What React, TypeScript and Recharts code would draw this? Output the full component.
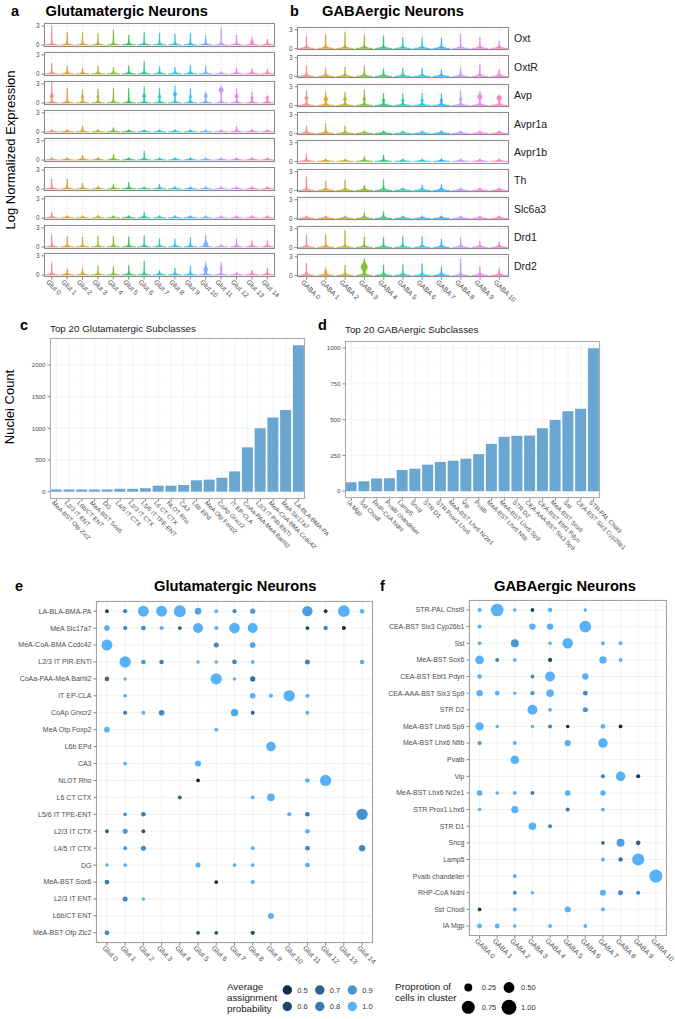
import React from 'react';
import {
  BarChart, Bar, ScatterChart, Scatter, XAxis, YAxis, ZAxis,
  CartesianGrid, Cell,
} from 'recharts';

const FONT = '"Liberation Sans", Arial, Helvetica, sans-serif';
const TICK_GREY = '#4D4D4D';
const GRID = '#EBEBEB';
const MINOR = '#F4F4F4';
const BAR_FILL = '#69A6D1';

// ---------- a / b : expression violins ----------
const genes = ['Oxt', 'OxtR', 'Avp', 'Avpr1a', 'Avpr1b', 'Th', 'Slc6a3', 'Drd1', 'Drd2'];

const glutClusters = ['Glut 0', 'Glut 1', 'Glut 2', 'Glut 3', 'Glut 4', 'Glut 5', 'Glut 6', 'Glut 7',
  'Glut 8', 'Glut 9', 'Glut 10', 'Glut 11', 'Glut 12', 'Glut 13', 'Glut 14'];
const gabaClusters = ['GABA 0', 'GABA 1', 'GABA 2', 'GABA 3', 'GABA 4', 'GABA 5', 'GABA 6', 'GABA 7',
  'GABA 8', 'GABA 9', 'GABA 10'];

const glutColors = ['#F8766D', '#E58700', '#C99800', '#A3A500', '#6BB100', '#00BA38', '#00BF7D', '#00C0AF',
  '#00BCD8', '#00B0F6', '#619CFF', '#B983FF', '#E76BF3', '#FD61D1', '#FF67A4'];
const gabaColors = ['#F8766D', '#DB8E00', '#AEA200', '#64B200', '#00BD5C', '#00C1A7', '#00BADE', '#00A6FF',
  '#B385FF', '#EF67EB', '#FF63B6'];

// max log-normalised expression per gene (rows) and cluster (columns)
const glutViolinMax = [
  [3.0, 2.0, 2.0, 1.85, 2.4, 1.55, 2.0, 1.9, 1.75, 1.9, 1.5, 2.7, 1.55, 1.2, 0.95],
  [1.7, 1.25, 0.9, 1.25, 1.05, 1.25, 2.05, 1.2, 1.05, 1.4, 1.25, 0.05, 0.95, 0.85, 0.75],
  [3.3, 2.4, 2.1, 2.2, 2.4, 2.3, 2.6, 2.4, 2.7, 2.3, 1.75, 2.7, 2.3, 1.75, 1.2],
  [0.05, 0.05, 1.0, 0.05, 0.7, 0.05, 0.05, 0.05, 0.05, 0.05, 0.05, 0.05, 0.9, 0.05, 0.05],
  [0.05, 0.05, 0.75, 0.05, 0.95, 0.05, 1.4, 0.05, 0.05, 0.05, 0.05, 0.05, 0.05, 0.05, 0.05],
  [1.6, 1.6, 0.95, 0.05, 0.75, 1.05, 0.05, 0.75, 0.05, 0.05, 0.05, 0.05, 0.05, 0.05, 0.05],
  [0.95, 0.05, 0.05, 0.05, 0.05, 0.05, 0.95, 0.05, 0.05, 0.05, 0.05, 0.05, 0.05, 0.05, 0.05],
  [1.9, 1.75, 1.6, 1.75, 1.7, 1.6, 1.8, 1.3, 1.3, 1.5, 1.85, 0.05, 1.3, 1.0, 1.0],
  [2.0, 1.0, 1.15, 1.4, 1.3, 1.5, 2.2, 0.7, 1.1, 1.4, 2.05, 1.95, 0.05, 0.8, 1.1],
];
const gabaViolinMax = [
  [2.0, 2.25, 2.6, 2.15, 2.05, 1.8, 1.75, 1.7, 2.35, 1.8, 1.2],
  [1.75, 1.35, 1.5, 1.6, 1.25, 1.35, 1.35, 1.15, 1.45, 1.9, 1.15],
  [2.4, 2.2, 2.15, 2.5, 1.95, 1.95, 2.0, 1.95, 2.4, 2.3, 1.65],
  [1.2, 1.6, 1.2, 0.05, 0.05, 0.05, 0.05, 0.05, 0.05, 0.05, 0.05],
  [1.25, 0.05, 0.05, 0.8, 1.05, 0.05, 0.05, 0.05, 0.05, 0.05, 0.05],
  [2.2, 1.5, 1.7, 0.85, 1.75, 0.05, 0.9, 0.95, 0.05, 0.05, 0.05],
  [0.05, 0.05, 0.05, 1.0, 1.1, 0.05, 0.05, 0.05, 0.05, 0.05, 0.05],
  [2.0, 2.1, 2.7, 1.7, 1.65, 1.8, 1.75, 1.35, 1.55, 1.05, 0.9],
  [2.0, 1.25, 1.65, 2.7, 1.7, 1.75, 1.9, 1.4, 2.7, 1.4, 1.2],
];

// density bumps: [gene, cluster, centre, spread, relative width]
type Bulge = [string, number, number, number, number];
const glutBulges: Bulge[] = [
  ['Oxt', 13, 0.55, 0.12, 0.15],
  ['Avp', 0, 1.1, 0.2, 0.2], ['Avp', 2, 1.0, 0.15, 0.12], ['Avp', 3, 1.0, 0.15, 0.1],
  ['Avp', 6, 1.1, 0.18, 0.18], ['Avp', 7, 1.0, 0.15, 0.15], ['Avp', 8, 1.4, 0.2, 0.2],
  ['Avp', 9, 1.0, 0.15, 0.12], ['Avp', 10, 1.1, 0.18, 0.18], ['Avp', 11, 2.05, 0.25, 0.3],
  ['Avp', 12, 1.1, 0.18, 0.2], ['Avp', 13, 0.8, 0.15, 0.12], ['Avp', 14, 0.8, 0.15, 0.15],
  ['Drd1', 10, 0.5, 0.25, 0.2],
  ['Drd2', 10, 0.9, 0.3, 0.22], ['Drd2', 11, 1.0, 0.25, 0.1],
];
const gabaBulges: Bulge[] = [
  ['Avp', 0, 1.2, 0.18, 0.15], ['Avp', 1, 1.0, 0.2, 0.18], ['Avp', 2, 1.0, 0.18, 0.15],
  ['Avp', 3, 1.0, 0.15, 0.12], ['Avp', 4, 0.8, 0.15, 0.12], ['Avp', 5, 0.8, 0.15, 0.12],
  ['Avp', 6, 0.8, 0.15, 0.12], ['Avp', 7, 0.8, 0.15, 0.12], ['Avp', 8, 1.0, 0.15, 0.12],
  ['Avp', 9, 1.4, 0.25, 0.22], ['Avp', 10, 1.2, 0.25, 0.25],
  ['Drd2', 1, 0.6, 0.15, 0.08], ['Drd2', 3, 1.35, 0.45, 0.33],
];

// ---------- c / d : nuclei counts per subclass (ascending) ----------
const glutSubclasses = ['MeA-BST Otp Zic2', 'L2/3 IT ENT', 'L6b/CT ENT', 'MeA-BST Sox6', 'DG',
  'L4/5 IT CTX', 'L2/3 IT CTX', 'L5/6 IT TPE-ENT', 'L6 CT CTX', 'NLOT Rho', 'CA3', 'L6b EPd',
  'MeA Otp Foxp2', 'CoAp Grxcr2', 'IT EP-CLA', 'CoAa-PAA-MeA Barhl2', 'L2/3 IT PIR-ENTl',
  'MeA-CoA-BMA Ccdc42', 'MeA Slc17a7', 'LA-BLA-BMA-PA'];
const glutCounts = [35, 35, 35, 35, 35, 45, 45, 55, 95, 95, 105, 180, 190, 220, 320, 700, 1000, 1170, 1290, 2310];

const gabaSubclasses = ['IA Mgp', 'Sst Chodl', 'RHP-CoA Ndnl', 'Pvalb chandelier', 'Lamp5', 'Sncg',
  'STR D1', 'STR Prox1 Lhx6', 'MeA-BST Lhx6 Nr2e1', 'Vip', 'Pvalb', 'MeA-BST Lhx6 Nfib',
  'MeA-BST Lhx6 Sp9', 'STR D2', 'CEA-AAA-BST Six3 Sp9', 'CEA-BST Ebf1 Pdyn', 'MeA-BST Sox6', 'Sst',
  'CEA-BST Six3 Cyp26b1', 'STR-PAL Chst9'];
const gabaCounts = [62, 69, 88, 90, 148, 157, 185, 204, 213, 227, 259, 331, 380, 387, 389, 440, 498, 558, 576, 1000];

// ---------- e / f : cluster vs subclass dots ----------
// row labels, top to bottom
const glutDotLabels = ['LA-BLA-BMA-PA', 'MeA Slc17a7', 'MeA-CoA-BMA Ccdc42', 'L2/3 IT PIR-ENTl',
  'CoAa-PAA-MeA Barhl2', 'IT EP-CLA', 'CoAp Grxcr2', 'MeA Otp Foxp2', 'L6b EPd', 'CA3', 'NLOT Rho',
  'L6 CT CTX', 'L5/6 IT TPE-ENT', 'L2/3 IT CTX', 'L4/5 IT CTX', 'DG', 'MeA-BST Sox6', 'L2/3 IT ENT',
  'L6b/CT ENT', 'MeA-BST Otp Zic2'];
const gabaDotLabels = [...gabaSubclasses].reverse();

// each entry: [cluster, proportion of cells, average assignment probability]
const glutDotRows: [number, number, number][][] = [
  [[0, 0.02, 0.6], [1, 0.04, 0.85], [2, 0.52, 1], [3, 0.52, 1], [4, 0.63, 1], [5, 0.16, 0.95], [6, 0.02, 1],
    [7, 0.03, 0.85], [8, 0.08, 0.92], [11, 0.45, 0.93], [12, 0.02, 0.55], [13, 0.6, 1], [14, 0.05, 1]],
  [[0, 0.1, 1], [1, 0.04, 0.85], [2, 0.06, 0.88], [3, 0.03, 1], [4, 0.02, 0.7], [5, 0.42, 1], [6, 0.03, 1],
    [7, 0.48, 1], [8, 0.42, 1], [11, 0.02, 0.6], [12, 0.04, 0.82], [13, 0.03, 0.5]],
  [[0, 0.52, 1], [6, 0.07, 0.85], [8, 0.1, 0.95]],
  [[1, 0.55, 1], [2, 0.05, 0.9], [3, 0.05, 0.82], [5, 0.01, 1], [6, 0.01, 1], [7, 0.06, 0.85], [8, 0.02, 1],
    [11, 0.07, 0.82], [14, 0.05, 1]],
  [[0, 0.05, 0.75], [1, 0.01, 1], [6, 0.55, 1], [7, 0.01, 1], [8, 0.08, 0.75]],
  [[1, 0.01, 0.95], [8, 0.1, 1], [9, 0.03, 1], [10, 0.55, 1], [11, 0.03, 1]],
  [[1, 0.03, 0.8], [2, 0.02, 1], [3, 0.1, 0.85], [7, 0.2, 0.95], [8, 0.02, 0.7], [11, 0.02, 1]],
  [[0, 0.1, 1], [6, 0.02, 1]],
  [[9, 0.38, 1]],
  [[1, 0.02, 1], [5, 0.12, 1]],
  [[5, 0.02, 0.5], [11, 0.05, 1], [12, 0.55, 1]],
  [[4, 0.02, 0.7], [8, 0.02, 1], [9, 0.22, 1]],
  [[1, 0.02, 0.9], [2, 0.05, 0.8], [10, 0.03, 1], [11, 0.05, 0.8], [14, 0.55, 0.88]],
  [[0, 0.02, 0.7], [1, 0.07, 0.9], [2, 0.02, 0.65], [11, 0.05, 1]],
  [[1, 0.02, 0.9], [2, 0.07, 0.85], [8, 0.02, 1], [11, 0.06, 0.85], [14, 0.14, 0.85]],
  [[0, 0.01, 1], [1, 0.02, 1], [5, 0.07, 1], [7, 0.02, 1], [8, 0.02, 1], [11, 0.06, 1]],
  [[0, 0.06, 0.8], [6, 0.02, 0.5], [8, 0.04, 1]],
  [[1, 0.07, 0.85], [2, 0.01, 1]],
  [[9, 0.12, 1]],
  [[0, 0.06, 0.85], [5, 0.02, 0.65], [6, 0.02, 0.65], [8, 0.04, 0.65]],
];
const gabaDotRows: [number, number, number][][] = [
  [[0, 0.03, 1], [1, 0.7, 1], [2, 0.01, 1], [3, 0.02, 0.6], [4, 0.04, 1], [6, 0.01, 1]],
  [[0, 0.03, 1], [3, 0.14, 1], [4, 0.14, 1], [6, 0.6, 1]],
  [[0, 0.02, 1], [2, 0.25, 0.9], [4, 0.01, 1], [5, 0.48, 1], [7, 0.02, 1], [8, 0.02, 1]],
  [[0, 0.3, 1], [1, 0.02, 0.8], [2, 0.02, 1], [4, 0.03, 0.6], [7, 0.2, 1], [8, 0.02, 1]],
  [[0, 0.05, 1], [3, 0.02, 0.85], [4, 0.42, 1], [6, 0.14, 1]],
  [[0, 0.14, 1], [1, 0.05, 1], [2, 0.01, 1], [3, 0.04, 0.9], [4, 0.22, 1], [6, 0.06, 0.85]],
  [[3, 0.42, 1], [4, 0.02, 1], [6, 0.07, 0.9]],
  [[0, 0.28, 1], [1, 0.01, 1], [3, 0.01, 1], [4, 0.03, 0.85], [5, 0.01, 0.5], [7, 0.06, 1], [8, 0.02, 0.5]],
  [[0, 0.04, 0.95], [2, 0.03, 1], [5, 0.14, 1], [7, 0.38, 1]],
  [[2, 0.3, 1]],
  [[7, 0.03, 0.85], [8, 0.38, 1], [9, 0.03, 0.55]],
  [[0, 0.1, 1], [1, 0.01, 1], [2, 0.02, 1], [3, 0.02, 0.8], [5, 0.1, 1], [7, 0.08, 1]],
  [[0, 0.01, 1], [2, 0.2, 1], [5, 0.03, 0.8], [7, 0.02, 1]],
  [[3, 0.22, 1], [4, 0.03, 0.85]],
  [[7, 0.02, 0.75], [8, 0.25, 0.93], [9, 0.05, 0.7]],
  [[7, 0.03, 1], [8, 0.04, 0.75], [9, 0.65, 1]],
  [[2, 0.02, 0.95], [10, 0.75, 1]],
  [[2, 0.02, 0.85], [3, 0.01, 1], [7, 0.12, 1], [8, 0.07, 0.85], [9, 0.03, 0.85]],
  [[0, 0.02, 0.6], [2, 0.03, 1], [5, 0.12, 1], [7, 0.02, 1]],
  [[0, 0.06, 1], [1, 0.06, 1], [2, 0.01, 1], [4, 0.02, 1], [6, 0.02, 1]],
];

const probLegend = [0.5, 0.6, 0.7, 0.8, 0.9, 1.0];
const propLegend = [0.25, 0.5, 0.75, 1.0];

// ---------- helpers ----------
const SIZE_RANGE: [number, number] = [8, 175];
const dotRadius = (p: number) => Math.sqrt((SIZE_RANGE[0] + (SIZE_RANGE[1] - SIZE_RANGE[0]) * p) / Math.PI);

const probColor = (p: number) => {
  const t = Math.max(0, Math.min(1, (p - 0.5) / 0.5));
  const lo = [19, 43, 67];
  const hi = [86, 177, 247];
  const c = lo.map((v, i) => Math.round(v + (hi[i] - v) * t));
  return `rgb(${c[0]},${c[1]},${c[2]})`;
};

type Rect = { x: number; y: number; w: number; h: number };

const Frame = ({ r, color }: { r: Rect; color: string }) => (
  <div style={{
    position: 'absolute', left: r.x, top: r.y, width: r.w, height: r.h,
    border: `1px solid ${color}`, boxSizing: 'border-box', pointerEvents: 'none',
  }} />
);

const SlantTick = (props: any) => {
  const { x, y, payload, size, labels, ox = -5, oy = 1 } = props;
  const label = labels ? labels[payload.value] : payload.value;
  const ax = x + ox;
  const ay = y + oy;
  return (
    <text x={ax} y={ay} transform={`rotate(45 ${ax} ${ay})`} fontSize={size} fill={TICK_GREY} textAnchor="start">
      {label}
    </text>
  );
};

// single-line y label (no wrapping)
const RowTick = (props: any) => {
  const { x, y, payload, labels, size } = props;
  return (
    <text x={x} y={y} dy="0.35em" textAnchor="end" fontSize={size} fill={TICK_GREY}>
      {labels[payload.value]}
    </text>
  );
};

const ViolinShape = (props: any) => {
  const { x, y, width, height, payload, colors, bulges } = props;
  const color = colors[payload.idx];
  const cx = x + width / 2;
  const yBase = y + height;
  const H = Math.max(height, 0);
  const halfW = width / 2;
  const unit = payload.value > 0 ? H / payload.value : 0;
  const own = (bulges as Bulge[]).filter((b) => b[1] === payload.idx);
  const top = Math.max(H, 2.6);
  const n = 80;
  const left: string[] = [];
  const right: string[] = [];
  for (let i = 0; i <= n; i++) {
    const t = (top * i) / n;
    let w = halfW * Math.exp(-t / 0.75);
    if (H > 0 && t <= H) w += 0.6 * (1 - 0.6 * (t / H));
    for (const [, , c, s, k] of own) {
      const d = (t - c * unit) / (s * unit);
      w += k * halfW * Math.exp(-0.5 * d * d);
    }
    w = Math.min(w, halfW);
    left.push(`${(cx - w).toFixed(2)},${(yBase - t).toFixed(2)}`);
    right.unshift(`${(cx + w).toFixed(2)},${(yBase - t).toFixed(2)}`);
  }
  return (
    <path d={`M${left.join('L')}L${right.join('L')}Z`} fill={color} fillOpacity={0.8}
      stroke={color} strokeWidth={0.35} />
  );
};

const VIOLIN_DOMAIN: [number, number] = [-0.3, 3.45];

const ViolinRow = ({ gene, values, clusters, colors, bulges, r, yw, showX }: {
  gene: string; values: number[]; clusters: string[]; colors: string[]; bulges: Bulge[];
  r: Rect; yw: number; showX: boolean;
}) => {
  const data = clusters.map((c, i) => ({ cluster: c, value: values[i], idx: i }));
  const own = bulges.filter((b) => b[0] === gene);
  const xh = showX ? 36 : 0;
  return (
    <>
      <div style={{ position: 'absolute', left: r.x - yw, top: r.y - 2 }}>
        <BarChart width={r.w + yw + 2} height={r.h + 4 + xh} data={data}
          margin={{ top: 2, right: 2, bottom: 2, left: 0 }} barCategoryGap="5%">
          <CartesianGrid stroke={MINOR} strokeWidth={0.5} vertical={false} horizontalValues={[1.5]} />
          <CartesianGrid stroke={GRID} strokeWidth={0.6} />
          <XAxis dataKey="cluster" hide={!showX} height={xh} interval={0} axisLine={false}
            tickSize={2.5} tickLine={{ stroke: '#333', strokeWidth: 0.6 }}
            tick={(p: any) => <SlantTick {...p} size={6.8} ox={-6} oy={1} />} />
          <YAxis domain={VIOLIN_DOMAIN} ticks={[0, 3]} interval={0} width={yw} axisLine={false}
            tickSize={2.5} tickLine={{ stroke: '#333', strokeWidth: 0.6 }}
            tick={{ fontSize: 6.3, fill: TICK_GREY }} />
          <Bar dataKey="value" isAnimationActive={false}
            shape={(p: any) => <ViolinShape {...p} colors={colors} bulges={own} />} />
        </BarChart>
      </div>
      <Frame r={r} color="#8C8C8C" />
    </>
  );
};

const CountBars = ({ names, counts, domain, ticks, minor, r }: {
  names: string[]; counts: number[]; domain: [number, number]; ticks: number[]; minor: number[]; r: Rect;
}) => {
  const data = names.map((name, i) => ({ name, count: counts[i] }));
  const yw = 30;
  const xh = 95;
  return (
    <>
      <div style={{ position: 'absolute', left: r.x - yw, top: r.y - 4 }}>
        <BarChart width={r.w + yw + 2} height={r.h + 4 + xh} data={data}
          margin={{ top: 4, right: 2, bottom: 0, left: 0 }} barCategoryGap="5%">
          <CartesianGrid stroke={MINOR} strokeWidth={0.5} vertical={false} horizontalValues={minor} />
          <CartesianGrid stroke={GRID} strokeWidth={0.6} />
          <XAxis dataKey="name" interval={0} height={xh} axisLine={false} tickSize={2.5}
            tickLine={{ stroke: '#333', strokeWidth: 0.6 }}
            tick={(p: any) => <SlantTick {...p} size={6.2} ox={-5} oy={0} />} />
          <YAxis domain={domain} ticks={ticks} interval={0} width={yw} axisLine={false} tickSize={2.5}
            tickLine={{ stroke: '#333', strokeWidth: 0.6 }} tick={{ fontSize: 6.2, fill: TICK_GREY }} />
          <Bar dataKey="count" fill={BAR_FILL} isAnimationActive={false} />
        </BarChart>
      </div>
      <Frame r={r} color="#ABABAB" />
    </>
  );
};

const DotPlot = ({ rows, rowLabels, clusters, r, yw }: {
  rows: [number, number, number][][]; rowLabels: string[]; clusters: string[]; r: Rect; yw: number;
}) => {
  const points = rows.flatMap((dots, row) =>
    dots.map(([col, prop, prob]) => ({ col, row, prop, prob })));
  const xTicks = clusters.map((_, i) => i);
  const yTicks = rowLabels.map((_, i) => i);
  const xh = 40;
  return (
    <>
      <div style={{ position: 'absolute', left: r.x - yw, top: r.y - 4 }}>
        <ScatterChart width={r.w + yw + 4} height={r.h + 4 + xh}
          margin={{ top: 4, right: 4, bottom: 0, left: 0 }}>
          <CartesianGrid stroke={GRID} strokeWidth={0.7} />
          <XAxis type="number" dataKey="col" domain={[-0.6, clusters.length - 0.4]} ticks={xTicks}
            interval={0} height={xh} axisLine={false} tickSize={2.5}
            tickLine={{ stroke: '#333', strokeWidth: 0.6 }}
            tick={(p: any) => <SlantTick {...p} labels={clusters} size={7} ox={-5} oy={1} />} />
          <YAxis type="number" dataKey="row" domain={[-0.6, rowLabels.length - 0.4]} reversed
            ticks={yTicks} interval={0} width={yw} axisLine={false} tickSize={2.5}
            tickLine={{ stroke: '#333', strokeWidth: 0.6 }}
            tick={(p: any) => <RowTick {...p} labels={rowLabels} size={7} />} />
          <ZAxis type="number" dataKey="prop" domain={[0, 1]} range={SIZE_RANGE} />
          <Scatter data={points} isAnimationActive={false}>
            {points.map((p, i) => <Cell key={i} fill={probColor(p.prob)} />)}
          </Scatter>
        </ScatterChart>
      </div>
      <Frame r={r} color="#A0A0A0" />
    </>
  );
};

// ---------- layout ----------
const glutRowRect = (k: number): Rect => ({ x: 44, y: 23.3 + 28.75 * k, w: 231, h: 24 });
const gabaRowRect = (k: number): Rect => ({ x: 297.3, y: 26.7 + 28.4 * k, w: 212, h: 23.3 });

export default function App() {
  const titleStyle = { fontSize: 14.7, fontWeight: 700, fill: '#000' } as const;
  const letterStyle = { fontSize: 14.5, fontWeight: 700, fill: '#000' } as const;
  const legendText = { fontSize: 9.8, fill: '#1A1A1A' } as const;
  const keyText = { fontSize: 7.5, fill: '#333' } as const;

  return (
    <div style={{ position: 'absolute', left: 0, top: 0, width: 675, height: 1019, background: '#fff', fontFamily: FONT }}>
      <style>{'.recharts-surface{overflow:visible}'}</style>
      {genes.map((g, k) => (
        <ViolinRow key={`a-${g}`} gene={g} values={glutViolinMax[k]} clusters={glutClusters}
          colors={glutColors} bulges={glutBulges} r={glutRowRect(k)} yw={14} showX={k === genes.length - 1} />
      ))}
      {genes.map((g, k) => (
        <ViolinRow key={`b-${g}`} gene={g} values={gabaViolinMax[k]} clusters={gabaClusters}
          colors={gabaColors} bulges={gabaBulges} r={gabaRowRect(k)} yw={10} showX={k === genes.length - 1} />
      ))}

      <CountBars names={glutSubclasses} counts={glutCounts} domain={[-115.5, 2425.5]}
        ticks={[0, 500, 1000, 1500, 2000]} minor={[250, 750, 1250, 1750, 2250]}
        r={{ x: 50, y: 338, w: 255, h: 161 }} />
      <CountBars names={gabaSubclasses} counts={gabaCounts} domain={[-50, 1050]}
        ticks={[0, 250, 500, 750, 1000]} minor={[125, 375, 625, 875]}
        r={{ x: 345, y: 341, w: 255, h: 157.3 }} />

      <DotPlot rows={glutDotRows} rowLabels={glutDotLabels} clusters={glutClusters}
        r={{ x: 96, y: 601, w: 277, h: 342 }} yw={96} />
      <DotPlot rows={gabaDotRows} rowLabels={gabaDotLabels} clusters={gabaClusters}
        r={{ x: 469.3, y: 600, w: 197.4, h: 336 }} yw={90} />

      <svg width={675} height={1019} style={{ position: 'absolute', left: 0, top: 0, pointerEvents: 'none' }}>
        <text x={11} y={16} style={letterStyle}>a</text>
        <text x={45.5} y={16} style={titleStyle}>Glutamatergic Neurons</text>
        <text x={290} y={16} style={letterStyle}>b</text>
        <text x={322} y={16} style={titleStyle}>GABAergic Neurons</text>
        <text x={15} y={150} transform="rotate(-90 15 150)" textAnchor="middle" fontSize={13} fill="#000">
          Log Normalized Expression
        </text>
        {genes.map((g, k) => {
          const r = gabaRowRect(k);
          return (
            <text key={g} x={514} y={r.y + r.h / 2 + 4} fontSize={10.5} fill="#1A1A1A">{g}</text>
          );
        })}

        <text x={20} y={330} style={letterStyle}>c</text>
        <text x={50} y={331.5} fontSize={9.8} fill="#222">Top 20 Glutamatergic Subclasses</text>
        <text x={13.5} y={407} transform="rotate(-90 13.5 407)" textAnchor="middle" fontSize={13} fill="#000">
          Nuclei Count
        </text>
        <text x={318} y={330} style={letterStyle}>d</text>
        <text x={345} y={333} fontSize={9.8} fill="#222">Top 20 GABAergic Subclasses</text>

        <text x={15} y={591} style={letterStyle}>e</text>
        <text x={154} y={591} style={titleStyle}>Glutamatergic Neurons</text>
        <text x={380} y={591} style={letterStyle}>f</text>
        <text x={494} y={591} style={titleStyle}>GABAergic Neurons</text>

        <text x={227} y={990} style={legendText}>Average</text>
        <text x={227} y={1001} style={legendText}>assignment</text>
        <text x={227} y={1012} style={legendText}>probability</text>
        {probLegend.map((p, i) => {
          const cx = 287.3 + Math.floor(i / 2) * 32.5;
          const cy = i % 2 === 0 ? 990 : 1006.5;
          return (
            <g key={p}>
              <circle cx={cx} cy={cy} r={4.7} fill={probColor(p)} />
              <text x={cx + 10} y={cy + 2.7} style={keyText}>{p.toFixed(1)}</text>
            </g>
          );
        })}

        <text x={395} y={990} style={legendText}>Proprotion of</text>
        <text x={395} y={1001} style={legendText}>cells in cluster</text>
        {propLegend.map((p, i) => {
          const cx = i % 2 === 0 ? 468.3 : 509;
          const cy = i < 2 ? 987.5 : 1007.3;
          return (
            <g key={p}>
              <circle cx={cx} cy={cy} r={dotRadius(p)} fill="#000" />
              <text x={i % 2 === 0 ? 481.7 : 521} y={cy + 2.7} style={keyText}>{p.toFixed(2)}</text>
            </g>
          );
        })}
      </svg>
    </div>
  );
}
